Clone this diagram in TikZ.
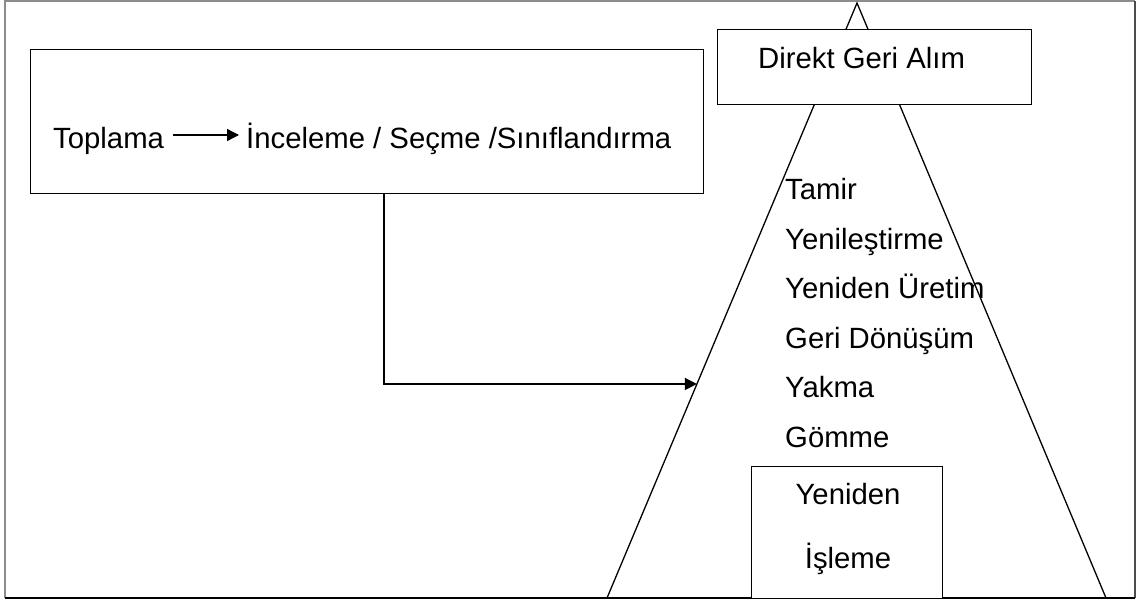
\documentclass[tikz,border=0pt]{standalone}
\usepackage{fontspec}
\setmainfont{Liberation Sans}
\usetikzlibrary{arrows.meta,calc}
\tikzset{
  lbl/.style={inner sep=0pt, anchor=base west, font=\fontsize{29.3}{33}\selectfont},
  boxy/.style={draw, line width=1.3pt, fill=white, inner sep=0pt, anchor=north west},
  conn/.style={line width=1.3pt, -{Triangle[length=12pt,width=12pt]}},
  edge/.style={line width=1.3pt}
}
\begin{document}
\begin{tikzpicture}[x=1pt,y=-1pt]
\useasboundingbox (0,0) rectangle (1137,603);
% outer frame
\coordinate (f1) at (5,1);
\coordinate (f2) at (1135,1);
\coordinate (f3) at (1135,598);
\coordinate (f4) at (5,598);
\draw[black!45, line width=1.2pt] (f4) -- (f1) -- (f2);
\draw[black!70, line width=1.2pt] (f2) -- (f3);
\draw[black, line width=1.5pt] (f3) -- (f4);
% triangle
\coordinate (apex) at (857,3);
\coordinate (bl) at (607,598);
\coordinate (br) at (1106,598);
\draw[edge, line join=miter] (bl) -- (apex) -- (br);
\coordinate (tin) at ($(apex)!0.6403!(bl)$);
% boxes
\node[boxy, minimum width=314pt, minimum height=75pt] (dga) at (717,29) {};
\node[lbl] (dgat) at (758,68) {Direkt Geri Alım};
\node[boxy, minimum width=191pt, minimum height=132pt] (yi) at (751,466) {};
\node[lbl, anchor=base] (yi1) at (848,504) {Yeniden};
\node[lbl, anchor=base] (yi2) at (848,568) {İşleme};
% left box
\node[boxy, minimum width=673pt, minimum height=144pt] (lbox) at (30,49) {};
\node[lbl] (top) at (53,148) {Toplama};
\node[lbl] (inc) at (246,148) {İnceleme / Seçme /Sınıflandırma};
\draw[conn] ($(top.base east)+(9,-13)$) coordinate (a1) -- ($(inc.base west)+(-7,-13)$) coordinate (a2);
% connector
\coordinate (c1) at ($(lbox.south west)+(354,0)$);
\draw[conn] (c1) |- (tin);
% list
\node[lbl] (l1) at (785,199) {Tamir};
\node[lbl] (l2) at (785,249) {Yenileştirme};
\node[lbl] (l3) at (785,298) {Yeniden Üretim};
\node[lbl] (l4) at (785,348) {Geri Dönüşüm};
\node[lbl] (l5) at (785,397) {Yakma};
\node[lbl] (l6) at (785,447) {Gömme};
\end{tikzpicture}
\end{document}
